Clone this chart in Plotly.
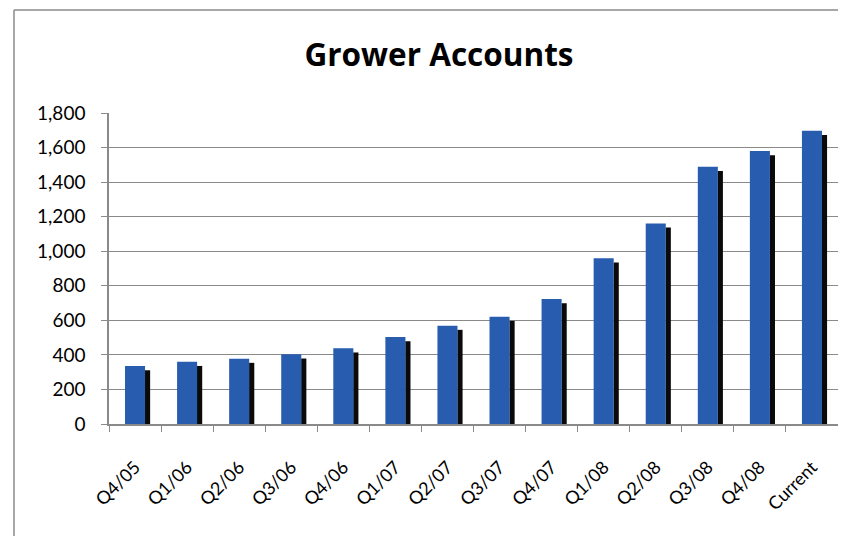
import plotly.graph_objects as go

categories = ["Q4/05", "Q1/06", "Q2/06", "Q3/06", "Q4/06", "Q1/07", "Q2/07",
              "Q3/07", "Q4/07", "Q1/08", "Q2/08", "Q3/08", "Q4/08", "Current"]
accounts = [335, 360, 378, 403, 438, 503, 569, 621, 723, 959, 1161, 1489, 1580, 1697]
y_ticks = [0, 200, 400, 600, 800, 1000, 1200, 1400, 1600, 1800]
y_tick_labels = ["0", "200", "400", "600", "800", "1,000", "1,200", "1,400", "1,600", "1,800"]
title_text = "Grower Accounts"

FONT = "Lato"
TITLE_FONT = "Open Sans"
# the page body has an 8px default margin; figure is sized/positioned to compensate
OFF = 8
W, H = 846 - OFF, 536 - OFF
ML, MR, MT, MB = 109 - OFF, 8, 113 - OFF, 112
pw = W - ML - MR
ph = H - MT - MB

shadow_drop = 24  # visual depth of the 3D side face, in data units

fig = go.Figure()
# dark side face (3D effect)
fig.add_trace(go.Bar(
    x=categories, y=[v - shadow_drop for v in accounts],
    width=0.1, offset=0.19,
    marker=dict(color="#0a0a0a", line=dict(width=0)),
    hoverinfo="skip", showlegend=False,
))
# front face
fig.add_trace(go.Bar(
    x=categories, y=accounts,
    width=0.385, offset=-0.1925,
    marker=dict(color="#285cae", line=dict(width=0)),
    showlegend=False,
))

# chart border (top and left edges visible)
bx = (14 - OFF - ML) / pw
by = (H - MB - (10 - OFF)) / ph
fig.add_shape(type="line", xref="paper", yref="paper", x0=bx, x1=1.2, y0=by, y1=by,
              line=dict(color="#8a8a8a", width=1.5))
fig.add_shape(type="line", xref="paper", yref="paper", x0=bx, x1=bx, y0=by, y1=-0.6,
              line=dict(color="#8a8a8a", width=1.5))

fig.update_layout(
    width=W, height=H,
    margin=dict(l=ML, r=MR, t=MT, b=MB),
    paper_bgcolor="white", plot_bgcolor="white",
    barmode="overlay",
    title=dict(text="<b>" + title_text + "</b>", x=(439 - OFF - ML) / pw, xref="paper",
               xanchor="center", y=1 - (55 - OFF) / H, yanchor="middle",
               font=dict(family=TITLE_FONT, size=31.5, color="black")),
    font=dict(family=FONT, color="black"),
)
fig.update_xaxes(
    type="category", tickangle=-45, tickson="boundaries",
    ticks="outside", ticklen=6, tickcolor="#8a8a8a",
    showline=True, linecolor="#8a8a8a", linewidth=1.5,
    showgrid=False, tickfont=dict(family=FONT, size=18, color="black"),
    ticklabelstandoff=24,
)
fig.update_yaxes(
    range=[0, 1800], tickvals=y_ticks, ticktext=y_tick_labels,
    ticks="outside", ticklen=6, tickcolor="#8a8a8a",
    showline=True, linecolor="#8a8a8a", linewidth=1.5,
    showgrid=True, gridcolor="#8a8a8a", gridwidth=1.2,
    tickfont=dict(family=FONT, size=19, color="black"),
    ticklabelstandoff=12, zeroline=False,
)

fig.write_html("out.html")
